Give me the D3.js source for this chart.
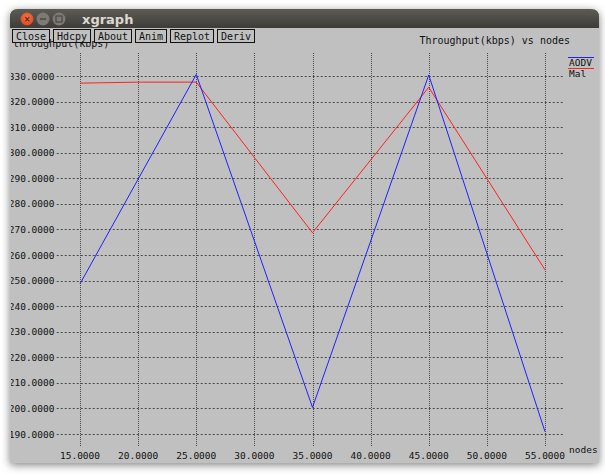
<!DOCTYPE html>
<html>
<head>
<meta charset="utf-8">
<script src="https://cdn.jsdelivr.net/npm/d3@7"></script>
<style>
  html, body { margin: 0; padding: 0; background: #ffffff; }
  svg { display: block; }
  .mono { font-family: "DejaVu Sans Mono", "Liberation Mono", monospace; }
</style>
</head>
<body>
<svg id="chart" width="605" height="474"></svg>
<script>
// Throughput (kbps) against number of nodes
const aodvNodes = [15, 25, 35, 45, 55];
const aodvValues = [248.7, 330.6, 200.4, 330.4, 190.9];
const malNodes = [15, 20, 25, 35, 45, 55];
const malValues = [327.2, 327.6, 327.6, 268.7, 325.6, 254.2];
const xTicks = [15, 20, 25, 30, 35, 40, 45, 50, 55];
const yTicks = [190, 200, 210, 220, 230, 240, 250, 260, 270, 280, 290, 300, 310, 320, 330];
const buttons = ["Close", "Hdcpy", "About", "Anim", "Replot", "Deriv"];
const seriesNames = ["AODV", "Mal"];
const seriesColors = ["#2020ff", "#ff2020"];

const svg = d3.select("#chart");
const defs = svg.append("defs");

// window shadow
const sh = defs.append("filter").attr("id", "shadow")
  .attr("x", "-10%").attr("y", "-10%").attr("width", "120%").attr("height", "120%");
sh.append("feDropShadow").attr("dx", 0).attr("dy", 2).attr("stdDeviation", 4)
  .attr("flood-color", "#000").attr("flood-opacity", 0.5);

const tb = defs.append("linearGradient").attr("id", "titlebar").attr("x1", 0).attr("y1", 0).attr("x2", 0).attr("y2", 1);
tb.append("stop").attr("offset", "0%").attr("stop-color", "#5c5b56");
tb.append("stop").attr("offset", "100%").attr("stop-color", "#3d3c38");

const closeG = defs.append("radialGradient").attr("id", "closeBtn").attr("cx", "50%").attr("cy", "40%").attr("r", "60%");
closeG.append("stop").attr("offset", "0%").attr("stop-color", "#f47a4c");
closeG.append("stop").attr("offset", "100%").attr("stop-color", "#d9491c");

const winX = 10, winY = 9, winW = 589, winH = 454;

// window frame
const frame = svg.append("g").attr("filter", "url(#shadow)");
frame.append("path")
  .attr("d", `M${winX},${winY + 8} Q${winX},${winY} ${winX + 8},${winY} L${winX + winW - 8},${winY} Q${winX + winW},${winY} ${winX + winW},${winY + 8} L${winX + winW},${winY + winH} L${winX},${winY + winH} Z`)
  .attr("fill", "#c0c0c0");
svg.append("path")
  .attr("d", `M${winX},${winY + 8} Q${winX},${winY} ${winX + 8},${winY} L${winX + winW - 8},${winY} Q${winX + winW},${winY} ${winX + winW},${winY + 8} L${winX + winW},${winY + 19} L${winX},${winY + 19} Z`)
  .attr("fill", "url(#titlebar)");

// title bar controls
svg.append("circle").attr("cx", 27).attr("cy", 19).attr("r", 6.5).attr("fill", "url(#closeBtn)");
svg.append("text").attr("x", 27).attr("y", 22).attr("text-anchor", "middle")
  .attr("font-family", "DejaVu Sans").attr("font-size", 8).attr("font-weight", "bold")
  .attr("fill", "#5a2410").text("×");
[43, 59].forEach((cx, i) => {
  svg.append("circle").attr("cx", cx).attr("cy", 19).attr("r", 6.5).attr("fill", "#7b7a75");
  if (i === 0) {
    svg.append("line").attr("x1", cx - 3).attr("x2", cx + 3).attr("y1", 19).attr("y2", 19)
      .attr("stroke", "#4a4945").attr("stroke-width", 1.5);
  } else {
    svg.append("rect").attr("x", cx - 3).attr("y", 16).attr("width", 6).attr("height", 6)
      .attr("fill", "none").attr("stroke", "#4a4945").attr("stroke-width", 1.2);
  }
});
svg.append("text").attr("x", 82).attr("y", 24)
  .attr("font-family", "DejaVu Sans").attr("font-size", 13).attr("font-weight", "bold")
  .attr("fill", "#dcd8cf").text("xgraph");

// clip everything inside the window body
defs.append("clipPath").attr("id", "body")
  .append("rect").attr("x", winX + 1).attr("y", winY + 19).attr("width", winW - 2).attr("height", winH - 19);
const body = svg.append("g").attr("clip-path", "url(#body)");

// scales
const x = d3.scaleLinear().domain([15, 55]).range([80, 545]);
const y = d3.scaleLinear().domain([190, 330]).range([434, 76]);
const gridLeft = x(13.0), gridRight = x(56.7);
const gridTop = y(339), gridBottom = y(184.9);

// y-axis title (drawn beneath the buttons)
body.append("text").attr("class", "mono").attr("x", 13).attr("y", 47)
  .attr("font-size", 10).attr("fill", "#111").text("throughput(kbps)");

// buttons
let bx = 12;
buttons.forEach(label => {
  const w = label.length * 6 + 7;
  body.append("rect").attr("x", bx + 0.5).attr("y", 29.5).attr("width", w).attr("height", 13)
    .attr("fill", "#c0c0c0").attr("stroke", "#111").attr("stroke-width", 1);
  body.append("text").attr("class", "mono").attr("x", bx + 4).attr("y", 40)
    .attr("font-size", 10).attr("fill", "#111").text(label);
  bx += w + 4;
});

// chart title
body.append("text").attr("class", "mono").attr("x", 570).attr("y", 44).attr("text-anchor", "end")
  .attr("font-size", 10).attr("fill", "#111").text("Throughput(kbps) vs nodes");

// grid lines
const grid = body.append("g");
grid.selectAll("line.h").data(yTicks).join("line")
  .attr("x1", gridLeft).attr("x2", gridRight)
  .attr("y1", d => Math.round(y(d)) + 0.5).attr("y2", d => Math.round(y(d)) + 0.5)
  .attr("stroke", "#4a4a4a").attr("stroke-width", 1).attr("stroke-dasharray", "2,2");
grid.selectAll("line.v").data(xTicks).join("line")
  .attr("x1", d => Math.round(x(d)) + 0.5).attr("x2", d => Math.round(x(d)) + 0.5)
  .attr("y1", gridTop).attr("y2", gridBottom)
  .attr("stroke", "#4a4a4a").attr("stroke-width", 1).attr("stroke-dasharray", "1,1");

// axis labels
body.selectAll("text.ylab").data(yTicks).join("text").attr("class", "mono")
  .attr("x", 54.5).attr("y", d => y(d) + 3.5).attr("text-anchor", "end")
  .attr("font-size", 9.5).attr("fill", "#111").text(d => d3.format(".4f")(d));
body.selectAll("text.xlab").data(xTicks).join("text").attr("class", "mono")
  .attr("x", d => x(d)).attr("y", 459).attr("text-anchor", "middle")
  .attr("font-size", 9.5).attr("fill", "#111").text(d => d3.format(".4f")(d));
body.append("text").attr("class", "mono").attr("x", 569).attr("y", 453)
  .attr("font-size", 9.5).attr("fill", "#111").text("nodes");

// series lines
const line = d3.line().x(d => x(d[0])).y(d => y(d[1]));
const series = [
  d3.zip(malNodes, malValues),
  d3.zip(aodvNodes, aodvValues)
];
body.append("path").datum(series[0]).attr("d", line)
  .attr("fill", "none").attr("stroke", seriesColors[1]).attr("stroke-width", 1);
body.append("path").datum(series[1]).attr("d", line)
  .attr("fill", "none").attr("stroke", seriesColors[0]).attr("stroke-width", 1);

// legend
seriesNames.forEach((name, i) => {
  const ly = 57 + i * 11;
  body.append("line").attr("x1", 568).attr("x2", 594).attr("y1", ly + 0.5).attr("y2", ly + 0.5)
    .attr("stroke", seriesColors[i]).attr("stroke-width", 1);
  body.append("text").attr("class", "mono").attr("x", 569).attr("y", ly + 8.5)
    .attr("font-size", 9.5).attr("fill", "#111").text(name);
});
</script>
</body>
</html>
